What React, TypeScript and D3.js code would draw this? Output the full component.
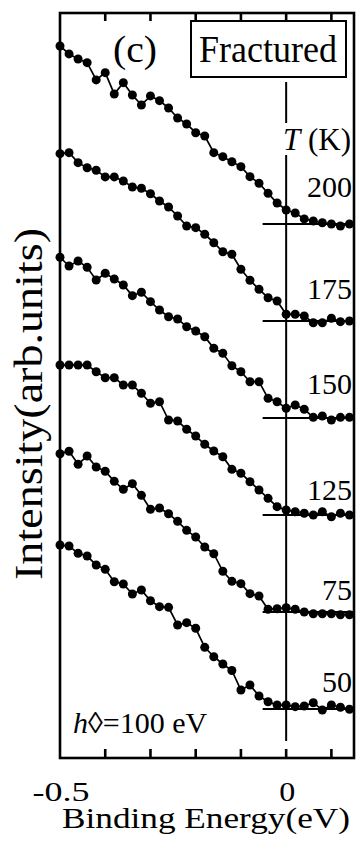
import React from 'react';
import * as d3 from 'd3';

// binding energy grid (eV)
const energies = [
  -0.5, -0.48, -0.46, -0.44, -0.42, -0.4, -0.38, -0.36, -0.34, -0.32, -0.3,
  -0.28, -0.26, -0.24, -0.22, -0.2, -0.18, -0.16, -0.14, -0.12, -0.1, -0.08,
  -0.06, -0.04, -0.02, 0, 0.02, 0.04, 0.06, 0.08, 0.1, 0.12, 0.14,
];

// intensity above each spectrum's own baseline (arb. units)
const i200 = [1.835, 1.753, 1.701, 1.663, 1.485, 1.56, 1.34, 1.457, 1.33, 1.227, 1.32, 1.271, 1.196, 1.093, 1.031, 0.941, 0.907, 0.735, 0.694, 0.642, 0.591, 0.488, 0.42, 0.316, 0.216, 0.144, 0.113, 0.052, 0.031, 0.013, 0.0, -0.021, 0.0];
const i175 = [1.725, 1.735, 1.632, 1.58, 1.554, 1.485, 1.485, 1.443, 1.381, 1.368, 1.312, 1.237, 1.175, 1.082, 0.979, 0.962, 0.894, 0.807, 0.714, 0.688, 0.533, 0.42, 0.327, 0.24, 0.206, 0.069, 0.069, 0.052, -0.018, -0.018, 0.028, -0.007, 0.0];
const i150 = [1.657, 1.567, 1.619, 1.554, 1.423, 1.492, 1.433, 1.371, 1.261, 1.296, 1.199, 1.113, 1.044, 1.021, 0.941, 0.897, 0.838, 0.719, 0.667, 0.539, 0.477, 0.374, 0.374, 0.203, 0.168, 0.1, 0.134, 0.09, 0.007, 0.021, -0.021, 0.007, 0.007];
const i125 = [1.546, 1.546, 1.546, 1.546, 1.477, 1.415, 1.415, 1.34, 1.34, 1.255, 1.152, 1.168, 0.979, 0.969, 0.884, 0.814, 0.729, 0.66, 0.601, 0.471, 0.43, 0.343, 0.258, 0.172, 0.086, 0.052, 0.034, 0.018, 0.0, 0.034, -0.018, 0.018, 0.0];
const i75 = [1.632, 1.657, 1.523, 1.608, 1.495, 1.451, 1.347, 1.265, 1.323, 1.203, 1.059, 1.072, 1.013, 0.935, 0.842, 0.773, 0.67, 0.601, 0.42, 0.316, 0.292, 0.189, 0.165, 0.028, 0.034, 0.044, 0.028, 0.0, -0.018, -0.018, -0.018, -0.028, -0.028];
const i50 = [1.691, 1.68, 1.605, 1.577, 1.485, 1.44, 1.312, 1.289, 1.186, 1.227, 1.116, 1.055, 1.048, 0.866, 0.89, 0.832, 0.636, 0.539, 0.464, 0.397, 0.196, 0.247, 0.134, 0.075, 0.041, 0.041, 0.024, 0.031, 0.065, -0.01, 0.041, 0.018, -0.003];

const temperatures = ['200', '175', '150', '125', '75', '50'];
const spectra = [i200, i175, i150, i125, i75, i50];
const offsets = [5, 4, 3, 2, 1, 0];

const xTicks = [-0.4, -0.3, -0.2, -0.1, 0, 0.1];
const xTickLabels = [-0.5, 0];

const W = 362;
const H = 845;
const serif = { fontFamily: "'Liberation Serif'" };

export default function App() {
  const margin = { top: 13, right: 8, bottom: 87, left: 60 };
  const x = d3.scaleLinear().domain([-0.5, 0.15]).range([margin.left, W - margin.right]);
  const y = d3.scaleLinear().domain([-0.505, 7.175]).range([H - margin.bottom, margin.top]);
  const top = margin.top;
  const bottom = H - margin.bottom;

  // label lift above baseline, px
  const labelDy = [27, 22, 24, 15, 12, 17];

  return (
    <svg width={W} height={H} style={{ position: 'absolute', left: 0, top: 0, background: '#fff' }}>
      {/* zero-energy line, broken around the T (K) label */}
      <line x1={x(0)} x2={x(0)} y1={82} y2={123} stroke="#000" strokeWidth={2} />
      <line x1={x(0)} x2={x(0)} y1={155} y2={741} stroke="#000" strokeWidth={2} />

      {spectra.map((vals, k) => {
        const base = offsets[k];
        const pts = vals.map((v, i) => [x(energies[i]), y(base + v)] as [number, number]);
        const line = d3.line()(pts) || '';
        return (
          <g key={temperatures[k]}>
            <line x1={x(-0.052)} x2={x(0.15)} y1={y(base)} y2={y(base)} stroke="#000" strokeWidth={2} />
            <path d={line} fill="none" stroke="#000" strokeWidth={1.7} />
            {pts.map((p, i) => (
              <circle key={i} cx={p[0]} cy={p[1]} r={4.5} fill="#000" />
            ))}
            <text x={W - 10} y={y(base) - labelDy[k]} textAnchor="end" fontSize={30} style={serif}>
              {temperatures[k]}
            </text>
          </g>
        );
      })}

      {/* frame */}
      <rect
        x={margin.left}
        y={top}
        width={W - margin.right - margin.left}
        height={bottom - top}
        fill="none"
        stroke="#000"
        strokeWidth={2.6}
      />
      {xTicks.map((t) => (
        <g key={t}>
          <line x1={x(t)} x2={x(t)} y1={top} y2={top + 8} stroke="#000" strokeWidth={2.6} />
          <line x1={x(t)} x2={x(t)} y1={bottom} y2={bottom - 9} stroke="#000" strokeWidth={2.6} />
        </g>
      ))}
      {xTickLabels.map((t) => (
        <text
          key={t}
          x={x(t) + 1}
          y={801}
          textAnchor="middle"
          fontSize={27}
          style={serif}
          textLength={t === 0 ? 16 : 57}
          lengthAdjust="spacingAndGlyphs"
        >
          {t === 0 ? '0' : String(t)}
        </text>
      ))}
      <text
        x={62}
        y={828}
        fontSize={29}
        style={serif}
        textLength={288}
        lengthAdjust="spacingAndGlyphs"
      >
        Binding Energy(eV)
      </text>
      <text
        transform="translate(42, 404) rotate(-90)"
        textAnchor="middle"
        fontSize={39}
        style={serif}
        textLength={352}
        lengthAdjust="spacingAndGlyphs"
      >
        Intensity(arb.units)
      </text>

      {/* annotations */}
      <text x={113} y={62} fontSize={38} style={serif} textLength={44} lengthAdjust="spacingAndGlyphs">
        (c)
      </text>
      <rect x={191} y={21} width={155} height={56} fill="#fff" stroke="#000" strokeWidth={2} />
      <text x={199} y={62} fontSize={38} style={serif} textLength={138} lengthAdjust="spacingAndGlyphs">
        Fractured
      </text>
      <text x={351} y={150} textAnchor="end" fontSize={31} style={serif}>
        <tspan fontStyle="italic">T</tspan> (K)
      </text>
      <text x={73} y={733} fontSize={30} style={serif}>
        <tspan fontStyle="italic">h</tspan>◊=100 eV
      </text>
    </svg>
  );
}
